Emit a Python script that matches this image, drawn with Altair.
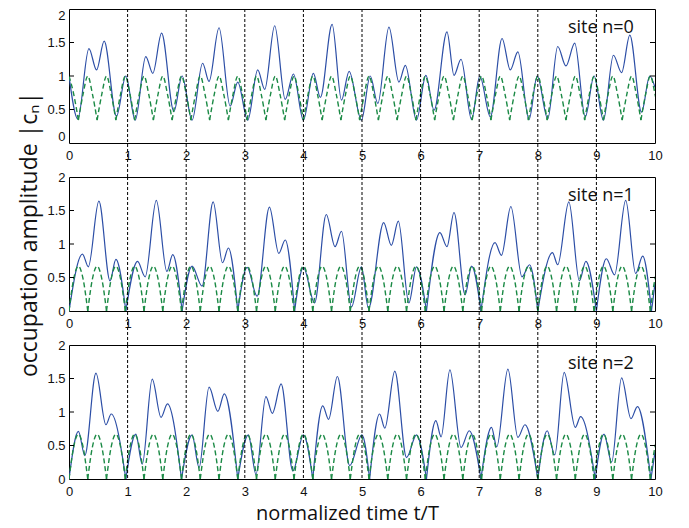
import altair as alt
import pandas as pd

# ---------------- data ----------------
X_TICKS = [0, 1, 2, 3, 4, 5, 6, 7, 8, 9, 10]
Y_TICKS = [0, 0.5, 1, 1.5, 2]
DIVIDERS = [1, 2, 3, 4, 5, 6, 7, 8, 9]
SITE_LABELS = ["site n=0", "site n=1", "site n=2"]

# blue (solid) curve, site n=0 : extrema
blue0_x = [0.00, 0.15, 0.34, 0.47, 0.60, 0.81, 0.97,
           1.13, 1.31, 1.43, 1.58, 1.79, 1.93,
           2.10, 2.28, 2.39, 2.56, 2.75, 2.88,
           3.05, 3.22, 3.34, 3.51, 3.69, 3.83,
           4.00, 4.17, 4.29, 4.49, 4.65, 4.78,
           4.99, 5.14, 5.27, 5.46, 5.63, 5.74,
           5.93, 6.09, 6.23, 6.45, 6.57, 6.69,
           6.87, 7.01, 7.19, 7.39, 7.53, 7.66,
           7.85, 7.99, 8.17, 8.34, 8.48, 8.63,
           8.81, 8.96, 9.12, 9.29, 9.43, 9.57,
           9.77, 9.91, 10.00]
blue0_y = [1.00, 0.36, 1.41, 1.09, 1.52, 0.40, 1.00,
           0.34, 1.29, 1.04, 1.64, 0.47, 1.00,
           0.34, 1.19, 0.92, 1.72, 0.55, 0.91,
           0.34, 1.09, 0.80, 1.75, 0.65, 1.03,
           0.34, 1.04, 0.68, 1.77, 0.64, 1.07,
           0.34, 1.00, 0.59, 1.73, 0.91, 1.16,
           0.34, 1.01, 0.49, 1.66, 1.01, 1.25,
           0.35, 1.00, 0.39, 1.56, 1.09, 1.36,
           0.35, 1.00, 0.36, 1.44, 1.15, 1.49,
           0.39, 1.00, 0.34, 1.31, 1.05, 1.61,
           0.46, 1.00, 0.83]

# blue curve, site n=1
blue1_x = [0.00, 0.23, 0.33, 0.51, 0.70, 0.80, 0.97,
           1.17, 1.30, 1.49, 1.67, 1.77, 1.93,
           2.10, 2.27, 2.46, 2.62, 2.72, 2.88,
           3.04, 3.21, 3.42, 3.58, 3.69, 3.85,
           4.00, 4.19, 4.39, 4.54, 4.65, 4.82,
           4.99, 5.11, 5.37, 5.50, 5.62, 5.80,
           5.93, 6.10, 6.33, 6.45, 6.57, 6.76, 6.87, 7.03,
           7.27, 7.38, 7.54, 7.73, 7.86, 8.00,
           8.25, 8.34, 8.53, 8.71, 8.82, 9.00,
           9.17, 9.31, 9.50, 9.67, 9.79, 9.94, 10.00]
blue1_y = [0.00, 0.85, 0.66, 1.64, 0.45, 0.77, 0.00,
           0.74, 0.51, 1.65, 0.59, 0.84, 0.00,
           0.67, 0.37, 1.63, 0.72, 0.94, 0.00,
           0.65, 0.22, 1.55, 0.86, 1.06, 0.00,
           0.65, 0.12, 1.44, 0.96, 1.19, 0.06,
           0.66, 0.04, 1.32, 0.98, 1.34, 0.12,
           0.66, 0.00, 1.17, 0.96, 1.47, 0.24, 0.67, 0.00,
           1.02, 0.83, 1.56, 0.51, 0.69, 0.00,
           0.87, 0.69, 1.63, 0.45, 0.74, 0.00,
           0.78, 0.54, 1.65, 0.56, 0.82, 0.00, 0.41]

# blue curve, site n=2
blue2_x = [0.00, 0.16, 0.27, 0.46, 0.63, 0.72, 0.97,
           1.14, 1.25, 1.42, 1.57, 1.68, 1.92,
           2.10, 2.22, 2.39, 2.54, 2.65, 2.88,
           3.06, 3.19, 3.36, 3.47, 3.62, 3.82,
           4.00, 4.16, 4.33, 4.43, 4.58, 4.79,
           5.00, 5.13, 5.30, 5.39, 5.56, 5.76,
           5.93, 6.10, 6.26, 6.35, 6.50, 6.69, 6.83, 7.03,
           7.21, 7.30, 7.49, 7.66, 7.78, 8.00,
           8.16, 8.29, 8.45, 8.64, 8.73, 8.98,
           9.13, 9.26, 9.43, 9.59, 9.70, 9.93, 10.00]
blue2_y = [0.00, 0.71, 0.35, 1.58, 0.81, 0.97, 0.00,
           0.67, 0.22, 1.49, 0.92, 1.12, 0.00,
           0.66, 0.17, 1.37, 1.01, 1.27, 0.00,
           0.66, 0.07, 1.23, 0.98, 1.42, 0.12,
           0.66, 0.00, 1.09, 0.89, 1.53, 0.20,
           0.66, 0.00, 0.97, 0.76, 1.61, 0.32,
           0.66, 0.00, 0.87, 0.63, 1.63, 0.47, 0.72, 0.00,
           0.77, 0.48, 1.64, 0.62, 0.81, 0.00,
           0.72, 0.36, 1.59, 0.77, 0.93, 0.00,
           0.67, 0.25, 1.51, 0.90, 1.08, 0.00, 0.40]

# green (dashed) curve, site n=0 : maxima (1.0) and pointed minima (0.34)
green0_trough_x = [0.16, 0.48, 0.80, 1.12, 1.44, 1.76, 2.08, 2.40, 2.72, 3.04,
                   3.36, 3.68, 4.00, 4.32, 4.64, 4.96, 5.28, 5.60, 5.92, 6.24,
                   6.56, 6.88, 7.20, 7.52, 7.84, 8.16, 8.48, 8.80, 9.12, 9.44,
                   9.76, 10.08]
green0_levels = [0.34, 0.73, 1.00]   # trough, halfway, peak

# green curve, sites n=1 and n=2 : pointed zeros and rounded maxima (0.67)
green12_zero_x = [0.00, 0.32, 0.64, 0.96, 1.28, 1.60, 1.92, 2.24, 2.56, 2.88,
                  3.20, 3.52, 3.84, 4.16, 4.48, 4.80, 5.12, 5.44, 5.76, 6.08,
                  6.40, 6.72, 7.04, 7.36, 7.68, 8.00, 8.32, 8.64, 8.96, 9.28,
                  9.60, 9.92, 10.24]
green12_levels = [0.00, 0.48, 0.67]  # zero, halfway, peak

# ---------------- style ----------------
BLUE = "#2c4ea6"
GREEN = "#1b8a45"
W, H = 586, 134
GAP = 34
TICK_FONT = "Liberation Sans"
TEXT_FONT = "Open Sans"


def blue_frame(xs, ys):
    """split the solid curve at its exact zeros so those stay pointed"""
    rows, seg = [], 0
    for i, (x, y) in enumerate(zip(xs, ys)):
        rows.append({"x": x, "y": y, "seg": seg})
        if y == 0 and 0 < i < len(xs) - 1:
            seg += 1
            rows.append({"x": x, "y": y, "seg": seg})
    return pd.DataFrame(rows)


def green_frame(edge_x, levels, start_at_peak):
    """one segment per hump between pointed edges, through its maximum"""
    lo, mid, hi = levels
    rows = []
    if start_at_peak:
        rows += [{"x": 0.0, "y": hi, "seg": -1},
                 {"x": edge_x[0] / 2, "y": mid, "seg": -1},
                 {"x": edge_x[0], "y": lo, "seg": -1}]
    for k in range(len(edge_x) - 1):
        a, b = edge_x[k], edge_x[k + 1]
        c = (a + b) / 2
        rows += [{"x": a, "y": lo, "seg": k},
                 {"x": (a + c) / 2, "y": mid, "seg": k},
                 {"x": c, "y": hi, "seg": k},
                 {"x": (c + b) / 2, "y": mid, "seg": k},
                 {"x": b, "y": lo, "seg": k}]
    return pd.DataFrame(rows)


blue_frames = [blue_frame(blue0_x, blue0_y),
               blue_frame(blue1_x, blue1_y),
               blue_frame(blue2_x, blue2_y)]
green_frames = [green_frame(green0_trough_x, green0_levels, True),
                green_frame(green12_zero_x, green12_levels, False),
                green_frame(green12_zero_x, green12_levels, False)]

xscale = alt.Scale(domain=[0, 10], nice=False, zero=False)
yscale = alt.Scale(domain=[0, 2], nice=False)


def panel(i):
    last = i == 2
    xaxis = alt.Axis(values=X_TICKS, grid=False, ticks=False, domain=False,
                     labelExpr="toString(datum.value)", labelOverlap=False, labelFlush=False,
                     labelFont=TICK_FONT, labelFontSize=13, labelColor="#111",
                     labelPadding=6,
                     title="normalized time t/T" if last else "",
                     titleFont=TEXT_FONT, titleFontSize=20, titleFontWeight="normal",
                     titleColor="#111", titlePadding=5, titleX=W / 2 - 15)
    yaxis = alt.Axis(values=Y_TICKS, grid=False, ticks=False, domain=False,
                     labelExpr="toString(datum.value)", labelOverlap=False,
                     labelFlush=(i == 0),
                     labelFont=TICK_FONT, labelFontSize=13,
                     labelColor="#111", labelPadding=4,
                     title="occupation amplitude |cₙ|" if i == 1 else "",
                     titleFont=TEXT_FONT, titleFontSize=23, titleFontWeight="normal",
                     titleColor="#111", titlePadding=5, titleY=H / 2 - 10)

    def X(field="x"):
        return alt.X(f"{field}:Q", scale=xscale, axis=xaxis)

    def Y(field="y"):
        return alt.Y(f"{field}:Q", scale=yscale, axis=yaxis)

    blue = alt.Chart(blue_frames[i]).mark_line(
        color=BLUE, strokeWidth=1.2, interpolate="monotone", clip=True
    ).encode(x=X(), y=Y(), detail="seg:N")
    green = alt.Chart(green_frames[i]).mark_line(
        color=GREEN, strokeWidth=1.4, strokeDash=[5, 3], interpolate="monotone", clip=True
    ).encode(x=X(), y=Y(), detail="seg:N")

    rules = alt.Chart(pd.DataFrame({"x": DIVIDERS})).mark_rule(
        color="black", strokeWidth=1, strokeDash=[3, 2]
    ).encode(x=X(), y=alt.value(0), y2=alt.value(H + (0 if last else GAP)))

    yt = pd.DataFrame({"y": Y_TICKS[1:-1]})
    ltick = alt.Chart(yt).mark_rule(color="black", strokeWidth=1).encode(
        y=Y(), x=alt.value(0), x2=alt.value(5))
    rtick = alt.Chart(yt).mark_rule(color="black", strokeWidth=1).encode(
        y=Y(), x=alt.value(W - 5), x2=alt.value(W))

    label = alt.Chart(pd.DataFrame({"x": [9.64], "y": [1.64], "t": [SITE_LABELS[i]]})).mark_text(
        align="right", baseline="alphabetic", font=TEXT_FONT, fontSize=18, color="#111"
    ).encode(x=X(), y=Y(), text="t:N")

    return alt.layer(blue, green, rules, ltick, rtick, label).properties(width=W, height=H)


chart = alt.vconcat(panel(0), panel(1), panel(2), spacing=GAP, bounds="flush").properties(
    padding={"left": 10, "top": 0, "right": 5, "bottom": 0},
    background="white",
).configure_view(stroke="black", strokeWidth=1)

chart.save("out.html", embed_options={"renderer": "svg", "actions": False})
